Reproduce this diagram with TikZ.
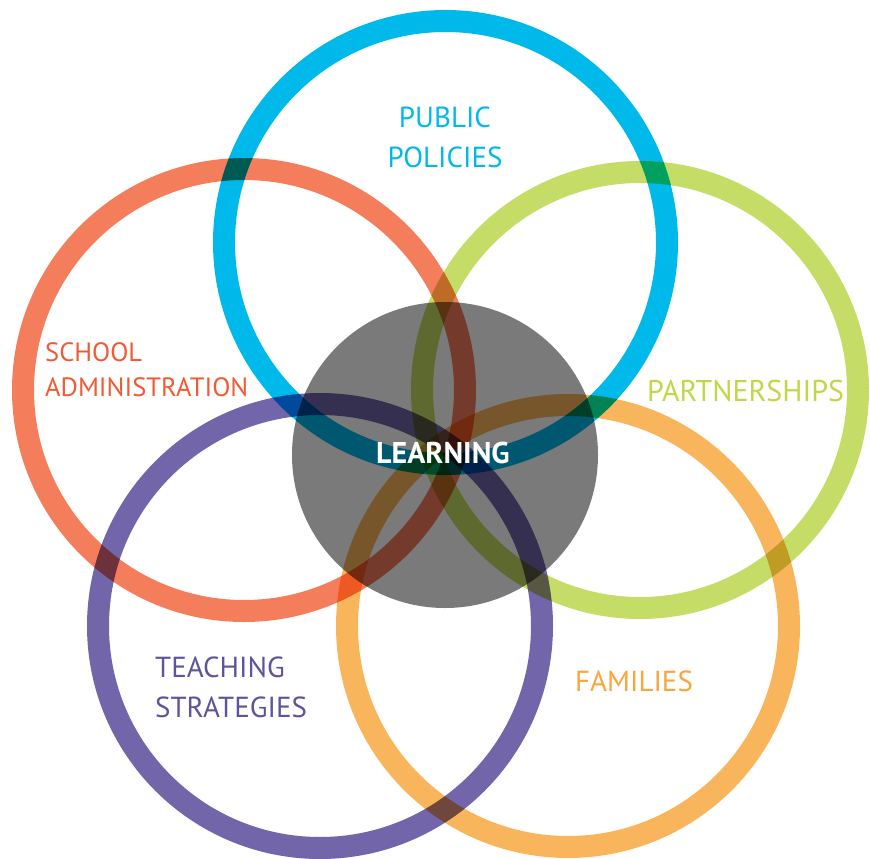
\documentclass[tikz,border=0pt]{standalone}
\usepackage{fontspec}
\setmainfont{PT Sans}
\usetikzlibrary{positioning}

\definecolor{policyblue}{HTML}{00B9EB}
\definecolor{schoolred}{HTML}{F47D5C}
\definecolor{schooltext}{HTML}{F15A33}
\definecolor{partnergreen}{HTML}{C5DD66}
\definecolor{partnertext}{HTML}{C2D748}
\definecolor{teachpurple}{HTML}{7265A9}
\definecolor{teachtext}{HTML}{5D5499}
\definecolor{familyorange}{HTML}{F9B55C}
\definecolor{familytext}{HTML}{F9A53D}
\definecolor{learngray}{HTML}{7A7A7A}

\begin{document}
\begin{tikzpicture}
        [x=1pt, y=-1pt,
         ring/.style={line width=22pt, blend mode=multiply},
         tag/.style={font=\fontsize{29}{40}\selectfont, inner sep=0pt},
         core/.style={fill=learngray, blend mode=multiply}]
        \useasboundingbox (0,0) rectangle (870,859);

        % the five rings and the centre
        \fill[core] (445,455) circle (153pt);
        \draw[ring, draw=policyblue] (445.5,242.5) circle (221.5pt);
        \draw[ring, draw=schoolred] (244,390) circle (221pt);
        \draw[ring, draw=partnergreen] (640,390) circle (218pt);
        \draw[ring, draw=teachpurple] (320,626) circle (222pt);
        \draw[ring, draw=familyorange] (568,626) circle (221pt);

        % labels
        \node[tag, text=policyblue, align=center] (public) at (445,137) {PUBLIC\\POLICIES};
        \node[tag, text=schooltext, align=left, anchor=west,
              font=\fontsize{26.5}{35}\selectfont] (school) at (45,370) {SCHOOL\\ADMINISTRATION};
        \node[tag, text=partnertext, anchor=west, font=\fontsize{30}{36}\selectfont] (partner) at (647,391) {PARTNERSHIPS};
        \node[tag, text=teachtext, align=left, anchor=west] (teach) at (155,687) {TEACHING\\STRATEGIES};
        \node[tag, text=familytext, anchor=west] (family) at (575,681) {FAMILIES};
        \node[tag, text=white, font=\fontsize{30}{36}\selectfont\bfseries] (learn) at (443,453) {LEARNING};
\end{tikzpicture}
\end{document}
